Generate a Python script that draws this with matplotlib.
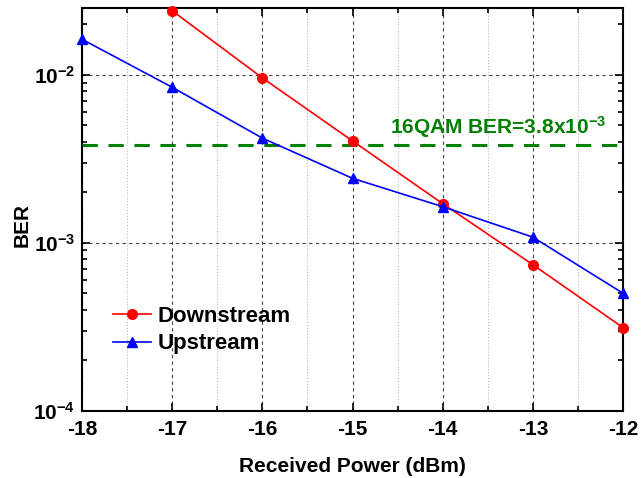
import matplotlib
matplotlib.use('Agg')
import matplotlib.pyplot as plt
from matplotlib.ticker import LogLocator, MultipleLocator, NullFormatter

plt.rcParams['font.family'] = ['Liberation Sans', 'DejaVu Sans']
plt.rcParams['font.weight'] = 'bold'
plt.rcParams['axes.unicode_minus'] = False
plt.rcParams['mathtext.fontset'] = 'custom'
plt.rcParams['mathtext.rm'] = 'Liberation Sans:bold'
plt.rcParams['mathtext.it'] = 'Liberation Sans:bold'
plt.rcParams['mathtext.bf'] = 'Liberation Sans:bold'
plt.rcParams['mathtext.default'] = 'regular'

# data
power = [-18, -17, -16, -15, -14, -13, -12]
down_power = [-17, -16, -15, -14, -13, -12]
downstream = [0.0241, 0.0096, 0.00404, 0.00171, 0.00074, 0.000312]
upstream = [0.0163, 0.00844, 0.0042, 0.00242, 0.00164, 0.00108, 0.0005]
threshold = 3.8e-3

fig = plt.figure(figsize=(6.41, 4.78), dpi=100)
ax = fig.add_axes([0.128, 0.141, 0.844, 0.842])

ax.plot(down_power, downstream, 'o-', color='red', lw=1.2, ms=7, label='Downstream', clip_on=False, zorder=5)
ax.plot(power, upstream, '^-', color='blue', lw=1.2, ms=7, label='Upstream', clip_on=False, zorder=5)
ax.axhline(threshold, color='green', lw=2.2, dashes=(5, 3.5), zorder=4)
ax.text(-13.39, threshold * 1.18, '16QAM BER=3.8x10$^{-3}$', color='green',
        fontsize=15, fontweight='bold', ha='center', va='baseline')

ax.set_yscale('log')
ax.set_xlim(-18, -12)
ax.set_ylim(1e-4, 0.025)
ax.xaxis.set_major_locator(MultipleLocator(1))
ax.xaxis.set_minor_locator(MultipleLocator(0.5))
ax.yaxis.set_major_locator(LogLocator(base=10, numticks=10))
ax.yaxis.set_minor_locator(LogLocator(base=10, subs=range(2, 10), numticks=20))
ax.yaxis.set_minor_formatter(NullFormatter())

ax.grid(which='major', axis='both', color='#444444', ls=(0, (3, 3)), lw=0.8)
ax.grid(which='minor', axis='x', color='#bbbbbb', ls=':', lw=0.8)
ax.tick_params(which='both', direction='in', top=True, right=True, labelsize=15, width=1.2)
ax.tick_params(which='major', length=6)
ax.tick_params(axis='x', which='major', pad=7)
ax.tick_params(axis='y', which='major', pad=5)
ax.tick_params(which='minor', length=3.5)
for s in ax.spines.values():
    s.set_linewidth(1.5)

ax.set_xlabel('Received Power (dBm)', fontsize=15, fontweight='bold', labelpad=13)
ax.set_ylabel('BER', fontsize=15, fontweight='bold')
ax.yaxis.set_label_coords(-0.093, 0.46)

ax.legend(loc='lower left', bbox_to_anchor=(0.02, 0.09), frameon=False, fontsize=16,
          handlelength=1.7, handletextpad=0.3, labelspacing=0.3)

fig.savefig('out.png', dpi=100)
